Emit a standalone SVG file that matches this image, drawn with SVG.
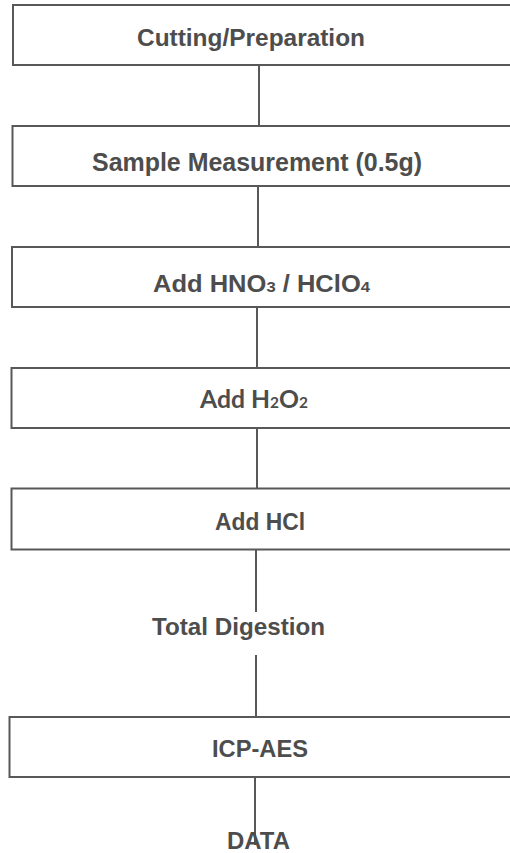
<svg xmlns="http://www.w3.org/2000/svg" width="510" height="853" viewBox="0 0 510 853">
<style>
.box{fill:#fff;stroke:#585858;stroke-width:2}
.ln{stroke:#585858;stroke-width:2;fill:none}
.t{font-family:"Liberation Sans",Arial,sans-serif;font-weight:bold;font-size:23px;fill:#4d4d4d}
.h{font-family:Lato,"Liberation Sans",sans-serif;font-weight:bold;font-size:24px;fill:#4d4d4d}
.s{font-size:15px}
</style>
<rect width="510" height="853" fill="#fff"/>
<g id="connectors">
<line class="ln" x1="259" y1="65" x2="259" y2="126"/>
<line class="ln" x1="258" y1="186" x2="258" y2="247"/>
<line class="ln" x1="257" y1="307" x2="257" y2="368"/>
<line class="ln" x1="257" y1="428" x2="257" y2="488"/>
<line class="ln" x1="256" y1="549" x2="256" y2="612"/>
<line class="ln" x1="256" y1="655" x2="256" y2="717"/>
<line class="ln" x1="255" y1="777" x2="255" y2="845"/>
</g>
<g id="n1"><rect class="box" x="13" y="5" width="510" height="60"/><text class="t" x="137" y="46" textLength="228" lengthAdjust="spacingAndGlyphs">Cutting/Preparation</text></g>
<g id="n2"><rect class="box" x="12.5" y="126" width="510" height="60"/><text class="t" x="92" y="171" textLength="330" lengthAdjust="spacingAndGlyphs" style="font-size:25px">Sample Measurement (0.5g)</text></g>
<g id="n3"><rect class="box" x="12" y="247" width="510" height="60"/><text class="t" x="153" y="292" textLength="217" lengthAdjust="spacingAndGlyphs">Add HNO<tspan class="s">3</tspan> / HClO<tspan class="s">4</tspan></text></g>
<g id="n4"><rect class="box" x="11.5" y="368" width="510" height="60"/><text class="h" x="200" y="408" textLength="108" lengthAdjust="spacingAndGlyphs">Add H<tspan class="s">2</tspan>O<tspan class="s">2</tspan></text></g>
<g id="n5"><rect class="box" x="11.5" y="488.5" width="510" height="61"/><text class="t" x="215" y="530" textLength="90" lengthAdjust="spacingAndGlyphs">Add HCl</text></g>
<g id="n6"><text class="t" x="152" y="635" textLength="173" lengthAdjust="spacingAndGlyphs" style="font-size:24px">Total Digestion</text></g>
<g id="n7"><rect class="box" x="9.5" y="717" width="510" height="60"/><text class="t" x="212" y="757" textLength="96" lengthAdjust="spacingAndGlyphs">ICP-AES</text></g>
<g id="n8"><text class="t" x="227" y="849" textLength="63" lengthAdjust="spacingAndGlyphs">DATA</text></g>
</svg>
